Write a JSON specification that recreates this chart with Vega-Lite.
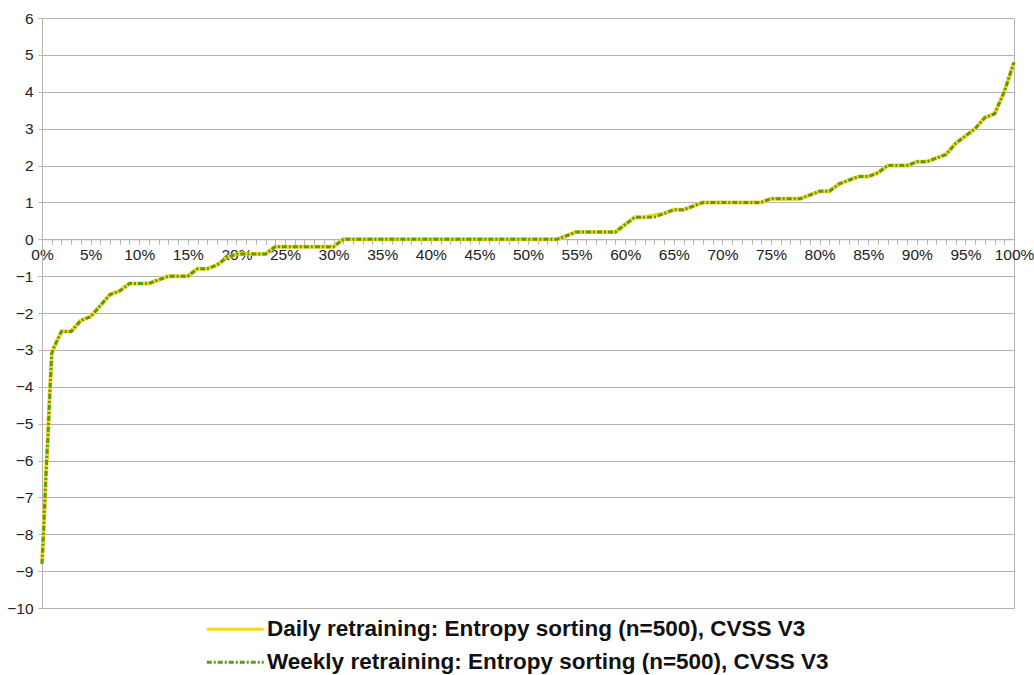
{
  "$schema": "https://vega.github.io/schema/vega-lite/v6.json",
  "autosize": "none",
  "width": 972,
  "height": 590,
  "padding": {"left": 42, "top": 18, "right": 20, "bottom": 67},
  "background": "white",
  "config": {
    "font": "Liberation Sans",
    "view": {"stroke": "#b3b3b3", "strokeWidth": 1}
  },
  "datasets": {
    "daily": [
      {"p": 0, "v": -8.8}, {"p": 0.2, "v": -7.7}, {"p": 0.4, "v": -6.4}, {"p": 0.6, "v": -5.4}, {"p": 0.8, "v": -4.2},
      {"p": 1, "v": -3.1}, {"p": 1.2, "v": -2.95}, {"p": 2, "v": -2.5}, {"p": 3, "v": -2.5}, {"p": 4, "v": -2.2},
      {"p": 5, "v": -2.1}, {"p": 6, "v": -1.8}, {"p": 7, "v": -1.5}, {"p": 8, "v": -1.4}, {"p": 9, "v": -1.2},
      {"p": 10, "v": -1.2}, {"p": 11, "v": -1.2}, {"p": 12, "v": -1.1}, {"p": 13, "v": -1.0}, {"p": 14, "v": -1.0},
      {"p": 15, "v": -1.0}, {"p": 16, "v": -0.8}, {"p": 17, "v": -0.8}, {"p": 18, "v": -0.7}, {"p": 19, "v": -0.5},
      {"p": 20, "v": -0.4}, {"p": 21, "v": -0.4}, {"p": 22, "v": -0.4}, {"p": 23, "v": -0.4}, {"p": 24, "v": -0.2},
      {"p": 25, "v": -0.2}, {"p": 26, "v": -0.2}, {"p": 27, "v": -0.2}, {"p": 28, "v": -0.2}, {"p": 29, "v": -0.2},
      {"p": 30, "v": -0.2}, {"p": 31, "v": 0}, {"p": 32, "v": 0}, {"p": 33, "v": 0}, {"p": 34, "v": 0},
      {"p": 35, "v": 0}, {"p": 36, "v": 0}, {"p": 37, "v": 0}, {"p": 38, "v": 0}, {"p": 39, "v": 0},
      {"p": 40, "v": 0}, {"p": 41, "v": 0}, {"p": 42, "v": 0}, {"p": 43, "v": 0}, {"p": 44, "v": 0},
      {"p": 45, "v": 0}, {"p": 46, "v": 0}, {"p": 47, "v": 0}, {"p": 48, "v": 0}, {"p": 49, "v": 0},
      {"p": 50, "v": 0}, {"p": 51, "v": 0}, {"p": 52, "v": 0}, {"p": 53, "v": 0}, {"p": 54, "v": 0.1},
      {"p": 55, "v": 0.2}, {"p": 56, "v": 0.2}, {"p": 57, "v": 0.2}, {"p": 58, "v": 0.2}, {"p": 59, "v": 0.2},
      {"p": 60, "v": 0.4}, {"p": 61, "v": 0.6}, {"p": 62, "v": 0.6}, {"p": 63, "v": 0.65}, {"p": 64, "v": 0.7},
      {"p": 65, "v": 0.8}, {"p": 66, "v": 0.8}, {"p": 67, "v": 0.9}, {"p": 68, "v": 1.0}, {"p": 69, "v": 1.0},
      {"p": 70, "v": 1.0}, {"p": 71, "v": 1.0}, {"p": 72, "v": 1.0}, {"p": 73, "v": 1.0}, {"p": 74, "v": 1.0},
      {"p": 75, "v": 1.1}, {"p": 76, "v": 1.1}, {"p": 77, "v": 1.1}, {"p": 78, "v": 1.1}, {"p": 79, "v": 1.2},
      {"p": 80, "v": 1.3}, {"p": 81, "v": 1.3}, {"p": 82, "v": 1.5}, {"p": 83, "v": 1.6}, {"p": 84, "v": 1.7},
      {"p": 85, "v": 1.7}, {"p": 86, "v": 1.8}, {"p": 87, "v": 2.0}, {"p": 88, "v": 2.0}, {"p": 89, "v": 2.0},
      {"p": 90, "v": 2.1}, {"p": 91, "v": 2.1}, {"p": 92, "v": 2.2}, {"p": 93, "v": 2.3}, {"p": 94, "v": 2.6},
      {"p": 95, "v": 2.8}, {"p": 96, "v": 3.0}, {"p": 97, "v": 3.3}, {"p": 98, "v": 3.4}, {"p": 99, "v": 4.0},
      {"p": 100, "v": 4.8}
    ],
    "weekly": [
      {"p": 0, "v": -8.8}, {"p": 0.2, "v": -7.7}, {"p": 0.4, "v": -6.4}, {"p": 0.6, "v": -5.4}, {"p": 0.8, "v": -4.2},
      {"p": 1, "v": -3.1}, {"p": 1.2, "v": -2.95}, {"p": 2, "v": -2.5}, {"p": 3, "v": -2.5}, {"p": 4, "v": -2.2},
      {"p": 5, "v": -2.1}, {"p": 6, "v": -1.8}, {"p": 7, "v": -1.5}, {"p": 8, "v": -1.4}, {"p": 9, "v": -1.2},
      {"p": 10, "v": -1.2}, {"p": 11, "v": -1.2}, {"p": 12, "v": -1.1}, {"p": 13, "v": -1.0}, {"p": 14, "v": -1.0},
      {"p": 15, "v": -1.0}, {"p": 16, "v": -0.8}, {"p": 17, "v": -0.8}, {"p": 18, "v": -0.7}, {"p": 19, "v": -0.5},
      {"p": 20, "v": -0.4}, {"p": 21, "v": -0.4}, {"p": 22, "v": -0.4}, {"p": 23, "v": -0.4}, {"p": 24, "v": -0.2},
      {"p": 25, "v": -0.2}, {"p": 26, "v": -0.2}, {"p": 27, "v": -0.2}, {"p": 28, "v": -0.2}, {"p": 29, "v": -0.2},
      {"p": 30, "v": -0.2}, {"p": 31, "v": 0}, {"p": 32, "v": 0}, {"p": 33, "v": 0}, {"p": 34, "v": 0},
      {"p": 35, "v": 0}, {"p": 36, "v": 0}, {"p": 37, "v": 0}, {"p": 38, "v": 0}, {"p": 39, "v": 0},
      {"p": 40, "v": 0}, {"p": 41, "v": 0}, {"p": 42, "v": 0}, {"p": 43, "v": 0}, {"p": 44, "v": 0},
      {"p": 45, "v": 0}, {"p": 46, "v": 0}, {"p": 47, "v": 0}, {"p": 48, "v": 0}, {"p": 49, "v": 0},
      {"p": 50, "v": 0}, {"p": 51, "v": 0}, {"p": 52, "v": 0}, {"p": 53, "v": 0}, {"p": 54, "v": 0.1},
      {"p": 55, "v": 0.2}, {"p": 56, "v": 0.2}, {"p": 57, "v": 0.2}, {"p": 58, "v": 0.2}, {"p": 59, "v": 0.2},
      {"p": 60, "v": 0.4}, {"p": 61, "v": 0.6}, {"p": 62, "v": 0.6}, {"p": 63, "v": 0.6}, {"p": 64, "v": 0.7},
      {"p": 65, "v": 0.8}, {"p": 66, "v": 0.8}, {"p": 67, "v": 0.9}, {"p": 68, "v": 1.0}, {"p": 69, "v": 1.0},
      {"p": 70, "v": 1.0}, {"p": 71, "v": 1.0}, {"p": 72, "v": 1.0}, {"p": 73, "v": 1.0}, {"p": 74, "v": 1.0},
      {"p": 75, "v": 1.1}, {"p": 76, "v": 1.1}, {"p": 77, "v": 1.1}, {"p": 78, "v": 1.1}, {"p": 79, "v": 1.2},
      {"p": 80, "v": 1.3}, {"p": 81, "v": 1.3}, {"p": 82, "v": 1.5}, {"p": 83, "v": 1.6}, {"p": 84, "v": 1.7},
      {"p": 85, "v": 1.7}, {"p": 86, "v": 1.8}, {"p": 87, "v": 2.0}, {"p": 88, "v": 2.0}, {"p": 89, "v": 2.0},
      {"p": 90, "v": 2.1}, {"p": 91, "v": 2.1}, {"p": 92, "v": 2.2}, {"p": 93, "v": 2.3}, {"p": 94, "v": 2.6},
      {"p": 95, "v": 2.8}, {"p": 96, "v": 3.0}, {"p": 97, "v": 3.3}, {"p": 98, "v": 3.4}, {"p": 99, "v": 4.0},
      {"p": 100, "v": 4.8}
    ]
  },
  "encoding": {
    "x": {
      "field": "p", "type": "quantitative",
      "scale": {"domain": [0, 100], "nice": false, "zero": false},
      "axis": {
        "title": null, "orient": "bottom", "offset": -368.75,
        "values": [0,1,2,3,4,5,6,7,8,9,10,11,12,13,14,15,16,17,18,19,20,21,22,23,24,25,26,27,28,29,30,31,32,33,34,35,36,37,38,39,40,41,42,43,44,45,46,47,48,49,50,51,52,53,54,55,56,57,58,59,60,61,62,63,64,65,66,67,68,69,70,71,72,73,74,75,76,77,78,79,80,81,82,83,84,85,86,87,88,89,90,91,92,93,94,95,96,97,98,99,100],
        "labelExpr": "datum.value % 5 == 0 ? datum.value + '%' : ''",
        "labelOverlap": false, "labelFlush": false,
        "grid": false, "domainColor": "#b3b3b3", "tickColor": "#b3b3b3", "tickSize": 5,
        "labelFontSize": 15.5, "labelColor": "#222222", "labelPadding": 3, "labelFont": "Liberation Sans"
      }
    },
    "y": {
      "field": "v", "type": "quantitative",
      "scale": {"domain": [-10, 6], "nice": false, "zero": false},
      "axis": {
        "title": null, "values": [-10,-9,-8,-7,-6,-5,-4,-3,-2,-1,0,1,2,3,4,5,6],
        "grid": true, "gridColor": "#b3b3b3", "domainColor": "#b3b3b3", "tickColor": "#b3b3b3", "tickSize": 4,
        "labelFontSize": 15.5, "labelColor": "#222222", "labelPadding": 5, "labelFont": "Liberation Sans"
      }
    }
  },
  "layer": [
    {
      "data": {"name": "daily"},
      "mark": {"type": "line", "strokeWidth": 4, "interpolate": "linear"},
      "encoding": {
        "color": {"datum": "Daily retraining: Entropy sorting (n=500), CVSS V3"},
        "strokeDash": {"datum": "Daily retraining: Entropy sorting (n=500), CVSS V3"}
      }
    },
    {
      "data": {"name": "weekly"},
      "mark": {"type": "line", "strokeWidth": 3, "interpolate": "linear"},
      "encoding": {
        "color": {
          "datum": "Weekly retraining: Entropy sorting (n=500), CVSS V3",
          "scale": {
            "domain": ["Daily retraining: Entropy sorting (n=500), CVSS V3", "Weekly retraining: Entropy sorting (n=500), CVSS V3"],
            "range": ["#ffd320", "#579d1c"]
          },
          "legend": {
            "title": null, "orient": "none", "legendX": 153.5, "legendY": 600,
            "symbolType": "M0,0H6", "symbolSize": 361, "symbolStrokeWidth": 3,
            "labelFontSize": 22.5, "labelFontWeight": "bold", "labelColor": "#111111", "labelFont": "Liberation Sans",
            "labelOffset": 49, "rowPadding": 10, "labelLimit": 800
          }
        },
        "strokeDash": {
          "datum": "Weekly retraining: Entropy sorting (n=500), CVSS V3",
          "scale": {
            "domain": ["Daily retraining: Entropy sorting (n=500), CVSS V3", "Weekly retraining: Entropy sorting (n=500), CVSS V3"],
            "range": [[1, 0], [5, 2, 2, 2]]
          },
          "legend": null
        }
      }
    }
  ]
}
